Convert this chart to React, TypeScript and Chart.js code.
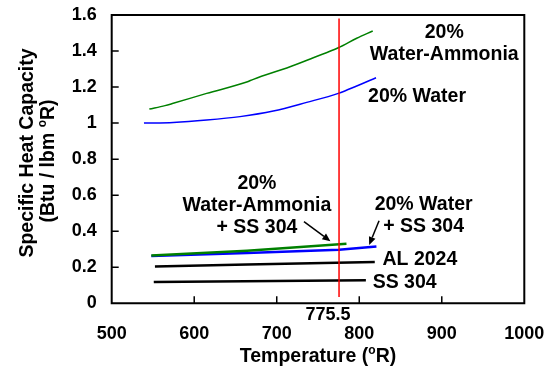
import { useEffect, useRef } from "react";
import { Chart, registerables } from "chart.js";

Chart.register(...registerables);

const FONT = '"Liberation Sans", Arial, Helvetica, sans-serif';

// Temperature (°R) and specific heat capacity (Btu / lbm °R)
const waterAmmoniaT = [545.6, 564.6, 574.6, 615.1, 663.6, 671.6, 716.1, 744.3, 774.6, 796.9, 816.3];
const waterAmmoniaCp = [1.078, 1.097, 1.11, 1.165, 1.228, 1.243, 1.313, 1.363, 1.418, 1.471, 1.511];
const waterT = [539.1, 574.6, 615.1, 655.5, 695.8, 736.3, 774.6, 796.9, 820.3];
const waterCp = [1.0, 1.004, 1.017, 1.036, 1.067, 1.115, 1.165, 1.206, 1.252];
const waterAmmoniaSsT = [548, 664, 784.5];
const waterAmmoniaSsCp = [0.265, 0.292, 0.331];
const waterSsT = [548, 664, 775.5, 820.8];
const waterSsCp = [0.262, 0.279, 0.297, 0.315];
const al2024T = [552.4, 664, 818.8];
const al2024Cp = [0.204, 0.215, 0.229];
const ss304T = [551, 808];
const ss304Cp = [0.118, 0.128];

// Operating temperature marker
const markerT = 775.5;
const markerCp = [0.035, 1.58];
const markerLabel = "775.5";

const xMin = 500;
const xMax = 1000;
const xStep = 100;
const yMin = 0;
const yMax = 1.6;
const yStep = 0.2;

const pts = (xs: number[], ys: number[]) => xs.map((x, i) => ({ x, y: ys[i] }));

// Curve labels, placed in data coordinates (temperature, heat capacity)
type Label = { lines: string[]; x: number; y: number };
const labels: Label[] = [
  { lines: ["20%", "Water-Ammonia"], x: 903, y: 1.5 },
  { lines: ["20% Water"], x: 870, y: 1.145 },
  { lines: ["20%", "Water-Ammonia", "+ SS 304"], x: 676, y: 0.665 },
  { lines: ["20% Water", "+ SS 304"], x: 878, y: 0.547 },
  { lines: ["AL 2024"], x: 873.5, y: 0.24 },
  { lines: ["SS 304"], x: 855, y: 0.113 },
];
const arrows = [
  { from: [733, 0.453], to: [765, 0.345] },
  { from: [824, 0.458], to: [812, 0.324] },
];

const BIG = 19.5;
const TICK = 18;
const LINE_H = 22;

function drawRich(
  ctx: CanvasRenderingContext2D,
  parts: { t: string; size: number; rise: number }[],
  cx: number,
  cy: number,
  base: number
) {
  let total = 0;
  for (const p of parts) {
    ctx.font = `bold ${p.size}px ${FONT}`;
    total += ctx.measureText(p.t).width;
  }
  let x = cx - total / 2;
  const baseline = cy + base * 0.716 * 0.5;
  ctx.textAlign = "left";
  ctx.textBaseline = "alphabetic";
  for (const p of parts) {
    ctx.font = `bold ${p.size}px ${FONT}`;
    ctx.fillText(p.t, x, baseline - p.rise);
    x += ctx.measureText(p.t).width;
  }
}

const frame = {
  id: "frame",
  afterDatasetsDraw(chart: any) {
    const ctx: CanvasRenderingContext2D = chart.ctx;
    const xs = chart.scales.x;
    const ys = chart.scales.y;
    const left = xs.left;
    const right = xs.right;
    const top = ys.top;
    const bottom = ys.bottom;
    ctx.save();
    ctx.globalAlpha = 1;
    ctx.setLineDash([]);
    ctx.strokeStyle = "#000000";
    ctx.lineWidth = 2;
    ctx.beginPath();
    ctx.moveTo(left, top);
    ctx.lineTo(right, top);
    ctx.lineTo(right, bottom);
    ctx.lineTo(left, bottom);
    ctx.closePath();
    ctx.stroke();

    // inward tick marks
    ctx.lineWidth = 1.5;
    ctx.beginPath();
    for (let v = xMin + xStep; v < xMax; v += xStep) {
      const px = xs.getPixelForValue(v);
      ctx.moveTo(px, bottom);
      ctx.lineTo(px, bottom - 7);
    }
    for (let v = yStep; v <= yMax + 1e-9; v += yStep) {
      const py = ys.getPixelForValue(v);
      ctx.moveTo(left, py);
      ctx.lineTo(left + 7, py);
    }
    ctx.stroke();
    ctx.restore();
  },
};

const decorations = {
  id: "decorations",
  afterDraw(chart: any) {
    const ctx: CanvasRenderingContext2D = chart.ctx;
    const xs = chart.scales.x;
    const ys = chart.scales.y;
    const left = xs.left;
    const right = xs.right;
    const bottom = ys.bottom;
    ctx.save();
    ctx.fillStyle = "#000";

    // curve labels
    ctx.textAlign = "center";
    ctx.textBaseline = "middle";
    ctx.font = `bold ${BIG}px ${FONT}`;
    for (const l of labels) {
      const cx = xs.getPixelForValue(l.x);
      const cy0 = ys.getPixelForValue(l.y);
      l.lines.forEach((s, i) => ctx.fillText(s, cx, cy0 + i * LINE_H));
    }

    // arrows
    ctx.strokeStyle = "#000";
    ctx.lineWidth = 1.5;
    for (const a of arrows) {
      const x1 = xs.getPixelForValue(a.from[0]);
      const y1 = ys.getPixelForValue(a.from[1]);
      const x2 = xs.getPixelForValue(a.to[0]);
      const y2 = ys.getPixelForValue(a.to[1]);
      const ang = Math.atan2(y2 - y1, x2 - x1);
      const hl = 8;
      const hw = 3.5;
      const bx = x2 - hl * Math.cos(ang);
      const by = y2 - hl * Math.sin(ang);
      ctx.beginPath();
      ctx.moveTo(x1, y1);
      ctx.lineTo(bx, by);
      ctx.stroke();
      ctx.beginPath();
      ctx.moveTo(x2, y2);
      ctx.lineTo(bx + hw * Math.sin(ang), by - hw * Math.cos(ang));
      ctx.lineTo(bx - hw * Math.sin(ang), by + hw * Math.cos(ang));
      ctx.closePath();
      ctx.fill();
    }

    // marker value under the axis
    ctx.textAlign = "center";
    ctx.textBaseline = "middle";
    ctx.font = `bold ${TICK}px ${FONT}`;
    ctx.fillText(markerLabel, xs.getPixelForValue(markerT) - 11, bottom + 12);

    // x axis title
    drawRich(
      ctx,
      [
        { t: "Temperature (", size: BIG, rise: 0 },
        { t: "o", size: 12, rise: 8 },
        { t: "R)", size: BIG, rise: 0 },
      ],
      (left + right) / 2,
      355,
      BIG
    );

    // y axis title
    ctx.save();
    ctx.translate(26, 153);
    ctx.rotate(-Math.PI / 2);
    drawRich(ctx, [{ t: "Specific Heat Capacity", size: BIG, rise: 0 }], 0, 0, BIG);
    ctx.restore();
    ctx.save();
    ctx.translate(47, 161);
    ctx.rotate(-Math.PI / 2);
    drawRich(
      ctx,
      [
        { t: "(Btu / lbm ", size: BIG, rise: 0 },
        { t: "o", size: 12, rise: 8 },
        { t: "R)", size: BIG, rise: 0 },
      ],
      0,
      0,
      BIG
    );
    ctx.restore();

    ctx.restore();
  },
};

export default function App() {
  const ref = useRef<HTMLCanvasElement>(null);

  useEffect(() => {
    if (!ref.current) return;
    const line = (data: any, color: string, width: number, smooth: boolean) => ({
      data,
      borderColor: color,
      backgroundColor: color,
      borderWidth: width,
      showLine: true,
      pointRadius: 0,
      fill: false,
      cubicInterpolationMode: smooth ? "monotone" : "default",
      tension: 0,
    });
    const chart = new Chart(ref.current, {
      type: "scatter",
      data: {
        datasets: [
          line(pts([markerT, markerT], markerCp), "#ff0000", 1.5, false),
          line(pts(waterAmmoniaSsT, waterAmmoniaSsCp), "#008000", 2.5, false),
          line(pts(waterSsT, waterSsCp), "#0000ff", 2.5, false),
          line(pts(al2024T, al2024Cp), "#000000", 2.5, false),
          line(pts(ss304T, ss304Cp), "#000000", 2.5, false),
          line(pts(waterAmmoniaT, waterAmmoniaCp), "#008000", 1.5, true),
          line(pts(waterT, waterCp), "#0000ff", 1.5, true),
        ] as any,
      },
      options: {
        animation: false,
        responsive: false,
        maintainAspectRatio: false,
        events: [],
        layout: { padding: { left: 0, top: 15, right: 22.7, bottom: 0 } },
        plugins: {
          legend: { display: false },
          tooltip: { enabled: false },
          title: { display: false },
        },
        scales: {
          x: {
            type: "linear",
            min: xMin,
            max: xMax,
            grid: { display: false, drawTicks: false },
            border: { display: false },
            ticks: {
              stepSize: xStep,
              padding: 20,
              color: "#000",
              font: { family: FONT, size: TICK, weight: "bold" },
              maxRotation: 0,
              callback: (v: any) => String(v),
            },
            afterFit: (s: any) => {
              s.height = 62.7;
              s.paddingLeft = 0;
              s.paddingRight = 0;
            },
          },
          y: {
            type: "linear",
            min: yMin,
            max: yMax,
            grid: { display: false, drawTicks: false },
            border: { display: false },
            ticks: {
              stepSize: yStep,
              padding: 15,
              color: "#000",
              font: { family: FONT, size: TICK, weight: "bold" },
              callback: (v: any) => String(Math.round(Number(v) * 10) / 10),
            },
            afterFit: (s: any) => {
              s.width = 111.7;
              s.paddingTop = 0;
              s.paddingBottom = 0;
            },
          },
        },
      } as any,
      plugins: [frame, decorations],
    });
    return () => chart.destroy();
  }, []);

  return (
    <div style={{ position: "fixed", left: 0, top: 0, width: 547, height: 366, background: "#fff" }}>
      <canvas ref={ref} width={547} height={366} style={{ display: "block" }} />
    </div>
  );
}
